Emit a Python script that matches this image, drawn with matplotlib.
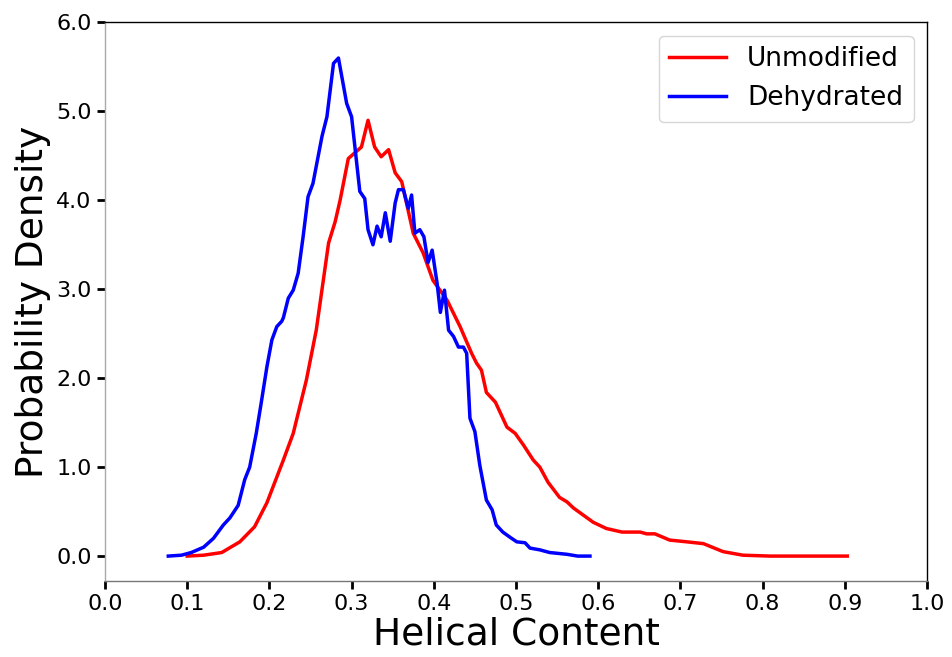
import matplotlib
matplotlib.use("Agg")
import matplotlib.pyplot as plt
from matplotlib.ticker import FormatStrFormatter

# Unmodified (red)
unmod_x = [0.100, 0.120, 0.142, 0.164, 0.182, 0.197, 0.217, 0.229, 0.245, 0.257,
           0.272, 0.280, 0.286, 0.296, 0.312, 0.320, 0.328, 0.336, 0.345, 0.353,
           0.361, 0.375, 0.387, 0.399, 0.416, 0.432, 0.446, 0.452, 0.458, 0.464,
           0.475, 0.489, 0.499, 0.509, 0.521, 0.529, 0.539, 0.553, 0.562, 0.570,
           0.582, 0.594, 0.610, 0.629, 0.651, 0.659, 0.669, 0.687, 0.708, 0.728,
           0.752, 0.776, 0.809, 0.850, 0.903]
unmod_y = [0.00, 0.01, 0.04, 0.16, 0.33, 0.60, 1.08, 1.38, 1.98, 2.54,
           3.52, 3.76, 4.00, 4.47, 4.60, 4.90, 4.60, 4.49, 4.57, 4.31,
           4.21, 3.63, 3.41, 3.10, 2.88, 2.58, 2.28, 2.17, 2.09, 1.84,
           1.73, 1.45, 1.38, 1.25, 1.08, 1.00, 0.83, 0.66, 0.61, 0.54,
           0.46, 0.38, 0.31, 0.27, 0.27, 0.25, 0.25, 0.18, 0.16, 0.14,
           0.05, 0.01, 0.00, 0.00, 0.00]

# Dehydrated (blue)
dehyd_x = [0.077, 0.093, 0.105, 0.120, 0.132, 0.144, 0.152, 0.162, 0.170, 0.176,
           0.184, 0.190, 0.197, 0.203, 0.209, 0.215, 0.217, 0.223, 0.229, 0.235,
           0.241, 0.247, 0.253, 0.264, 0.270, 0.278, 0.284, 0.294, 0.300, 0.310,
           0.316, 0.320, 0.326, 0.331, 0.336, 0.341, 0.347, 0.353, 0.357, 0.363,
           0.369, 0.373, 0.377, 0.383, 0.388, 0.393, 0.398, 0.404, 0.408, 0.413,
           0.418, 0.424, 0.430, 0.436, 0.440, 0.444, 0.450, 0.456, 0.464, 0.471,
           0.476, 0.484, 0.493, 0.501, 0.511, 0.517, 0.529, 0.541, 0.562, 0.575,
           0.590]
dehyd_y = [0.00, 0.01, 0.04, 0.10, 0.20, 0.35, 0.43, 0.57, 0.86, 1.00,
           1.38, 1.72, 2.13, 2.43, 2.58, 2.64, 2.68, 2.90, 2.99, 3.18,
           3.59, 4.04, 4.19, 4.72, 4.94, 5.54, 5.60, 5.09, 4.94, 4.10,
           4.02, 3.67, 3.50, 3.71, 3.59, 3.86, 3.54, 3.97, 4.12, 4.12,
           3.91, 4.06, 3.63, 3.67, 3.59, 3.30, 3.44, 3.07, 2.74, 2.99,
           2.54, 2.47, 2.35, 2.35, 2.28, 1.55, 1.40, 1.02, 0.63, 0.52,
           0.35, 0.27, 0.21, 0.16, 0.15, 0.09, 0.07, 0.04, 0.02, 0.00,
           0.00]

x_ticks = [0.0, 0.1, 0.2, 0.3, 0.4, 0.5, 0.6, 0.7, 0.8, 0.9, 1.0]
y_ticks = [0.0, 1.0, 2.0, 3.0, 4.0, 5.0, 6.0]

fig = plt.figure(figsize=(9.52, 6.57), dpi=100)
ax = fig.add_axes([0.1103, 0.1157, 0.8634, 0.8501])

ax.plot(unmod_x, unmod_y, color='red', lw=2.5, label='Unmodified')
ax.plot(dehyd_x, dehyd_y, color='blue', lw=2.5, label='Dehydrated')

ax.set_xlim(0.0, 1.0)
ax.set_ylim(-0.28, 6.0)
ax.set_xticks(x_ticks)
ax.set_yticks(y_ticks)
ax.xaxis.set_major_formatter(FormatStrFormatter('%.1f'))
ax.yaxis.set_major_formatter(FormatStrFormatter('%.1f'))
ax.tick_params(axis='both', labelsize=16, length=6, width=2, color='black')

ax.spines['left'].set_color('#aaaaaa')
ax.spines['bottom'].set_color('#777777')
ax.spines['top'].set_color('black')
ax.spines['right'].set_color('black')
for s in ax.spines.values():
    s.set_linewidth(1.0)

ax.set_xlabel('Helical Content', fontsize=27, labelpad=2)
ax.set_ylabel('Probability Density', fontsize=27)
ax.legend(loc='upper right', fontsize=19, handlelength=2.15)

fig.savefig('out.png', dpi=100)
